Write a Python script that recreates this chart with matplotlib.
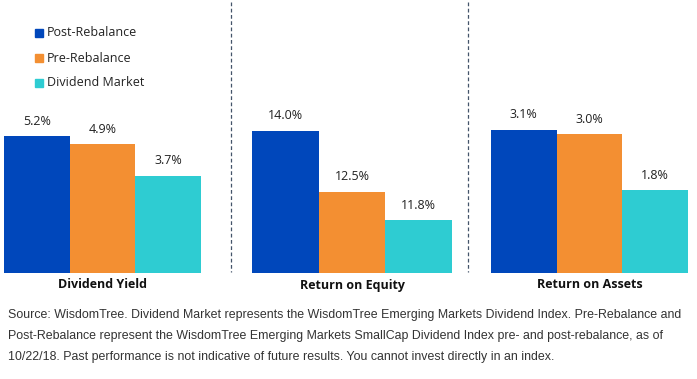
import numpy as np
import matplotlib.pyplot as plt
from matplotlib.lines import Line2D

# data
series = ["Post-Rebalance", "Pre-Rebalance", "Dividend Market"]
metrics = ["Dividend Yield", "Return on Equity", "Return on Assets"]
dividend_yield = [5.2, 4.9, 3.7]
return_on_equity = [14.0, 12.5, 11.8]
return_on_assets = [3.1, 3.0, 1.8]
values = [dividend_yield, return_on_equity, return_on_assets]

colors = ["#0047BB", "#F38F32", "#2ECCD2"]
ylims = [(0, 6.58), (10.5, 14.75), (0, 3.745)]
panel_x = [(4, 201), (252, 452), (491, 688)]

W, H = 697, 379
fig = plt.figure(figsize=(W / 100, H / 100), dpi=100)
plt.rcParams['font.family'] = ['Open Sans', 'DejaVu Sans']

base = 273
top = 100
for i, vals in enumerate(values):
    x0, x1 = panel_x[i]
    ax = fig.add_axes([x0 / W, (H - base) / H, (x1 - x0) / W, (base - top) / H])
    xs = np.arange(len(vals))
    ax.bar(xs, vals, width=1.0, color=colors, zorder=2)
    ax.set_xlim(-0.5, 2.5)
    ax.set_ylim(*ylims[i])
    for x, v in zip(xs, vals):
        ax.annotate(f"{v:.1f}%", (x, v), xytext=(0, 6), textcoords="offset points",
                    ha="center", va="bottom", fontsize=9, color="#222222")
    ax.axis("off")
    fig.text((x0 + x1) / 2 / W, 1 - 285 / H, metrics[i], ha="center", va="center",
             fontsize=9, fontweight="bold", color="#111111")

# dashed separators
for xp in [231, 468]:
    fig.add_artist(Line2D([xp / W, xp / W], [1 - 2 / H, 1 - 272 / H],
                          color="#44546A", lw=0.9, ls=(0, (3, 2))))

# legend
for j, name in enumerate(series):
    yy = 33 + j * 25
    fig.add_artist(plt.Rectangle(((35) / W, 1 - (yy + 4) / H), 8 / W, 8 / H,
                                 color=colors[j], transform=fig.transFigure))
    fig.text(47 / W, 1 - yy / H, name, ha="left", va="center", fontsize=9, color="#222222")

note = ("Source: WisdomTree. Dividend Market represents the WisdomTree Emerging Markets Dividend Index. Pre-Rebalance and\n"
        "Post-Rebalance represent the WisdomTree Emerging Markets SmallCap Dividend Index pre- and post-rebalance, as of\n"
        "10/22/18. Past performance is not indicative of future results. You cannot invest directly in an index.")
fig.text(8 / W, 1 - 309 / H, note, ha="left", va="top", fontsize=8.9,
         family=['Liberation Sans', 'DejaVu Sans'], color="#333333", linespacing=2.0)

fig.savefig("out.png", dpi=100)
